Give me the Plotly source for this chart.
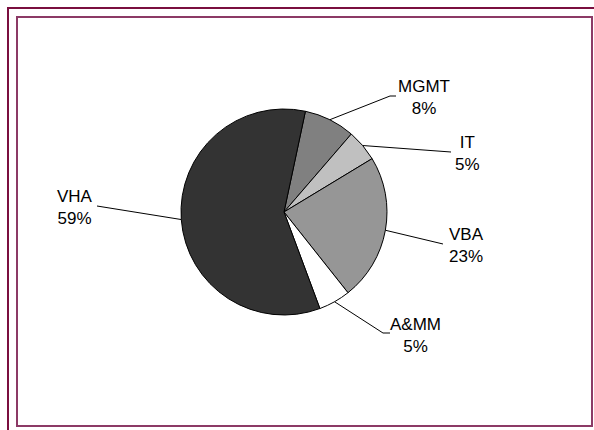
import math
import plotly.graph_objects as go

# Budget share by organisation (percent)
labels = ["MGMT", "IT", "VBA", "A&MM", "VHA"]
values = [8, 5, 23, 5, 59]
colors = ["#808080", "#c0c0c0", "#969696", "#ffffff", "#333333"]

W, H = 594, 430
CX, CY, R = 284, 212, 103      # pie centre / radius in pixels
ROTATION = 12                  # start angle, degrees clockwise from 12 o'clock

# Where each leader line ends (elbow, end) and where its label block sits, in pixels
label_layout = {
    "MGMT": {"path": [(390, 96), (396, 96)], "text": (424, 98)},
    "IT":   {"path": [(451, 152)],           "text": (467, 153)},
    "VBA":  {"path": [(443, 244)],           "text": (466, 245)},
    "A&MM": {"path": [(383, 333), (390, 333)], "text": (415, 335)},
    "VHA":  {"path": [(97, 206)],            "text": (75, 207)},
}


def px(x):
    return x / W


def py(y):
    return 1 - y / H


fig = go.Figure(
    go.Pie(
        labels=labels,
        values=values,
        sort=False,
        direction="clockwise",
        rotation=ROTATION,
        marker=dict(colors=colors, line=dict(color="#000000", width=1)),
        textinfo="none",
        hoverinfo="label+percent",
        showlegend=False,
        domain=dict(x=[px(CX - R), px(CX + R)], y=[py(CY + R), py(CY - R)]),
    )
)

total = sum(values)
shapes = []
annotations = []
start = ROTATION
for lab, val in zip(labels, values):
    sweep = 360 * val / total
    mid = math.radians(start + sweep / 2)
    start += sweep
    ex, ey = CX + R * math.sin(mid), CY - R * math.cos(mid)
    pts = [(ex, ey)] + label_layout[lab]["path"]
    path = "M " + " L ".join(f"{px(x):.5f},{py(y):.5f}" for x, y in pts)
    shapes.append(dict(type="path", xref="paper", yref="paper", path=path,
                       line=dict(color="#000000", width=1)))
    tx, ty = label_layout[lab]["text"]
    pct = round(100 * val / total)
    annotations.append(dict(x=px(tx), y=py(ty), xref="paper", yref="paper",
                            text=f"{lab}<br>{pct}%", showarrow=False,
                            xanchor="center", yanchor="middle", align="center",
                            font=dict(family="Liberation Sans, Arial", size=17,
                                      color="#000000")))

# Frame: outer maroon rule and inner plot-area box
shapes.append(dict(type="path", xref="paper", yref="paper",
                   path=f"M {px(8)},{py(440)} L {px(8)},{py(8)} L {px(604)},{py(8)}",
                   line=dict(color="#7a0f3f", width=2)))
shapes.append(dict(type="rect", xref="paper", yref="paper",
                   x0=px(17), x1=px(592), y0=py(426), y1=py(17),
                   line=dict(color="#8c3a66", width=2)))

fig.update_layout(
    width=W, height=H,
    margin=dict(l=0, r=0, t=0, b=0),
    paper_bgcolor="#ffffff",
    plot_bgcolor="#ffffff",
    shapes=shapes,
    annotations=annotations,
)

fig.write_html("out.html")
